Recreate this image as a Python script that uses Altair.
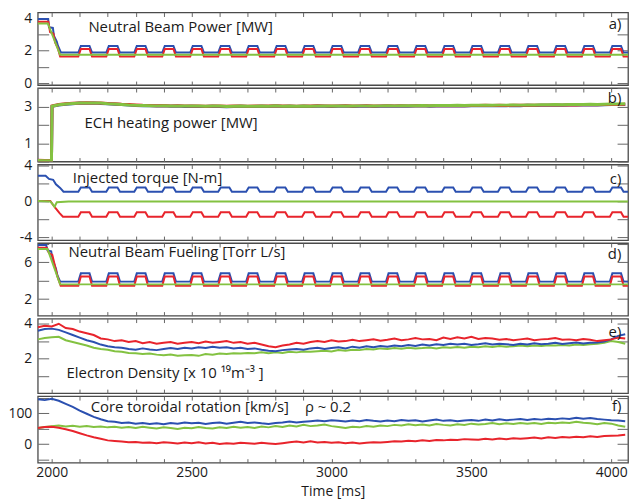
import altair as alt
import pandas as pd

# ---------------- colours / fonts ----------------
BLUE = "#2b50b0"
RED = "#e8242c"
GREEN = "#83c241"
FONT = "Open Sans"
TXT = "#1a1a1a"

X_DOMAIN = [1950, 4060]
X_END = 4060
W = 594

# ---------------- beam modulation (panels a, c, d) ----------------
PULSE_STARTS = [2095, 2195, 2295, 2395, 2495, 2595, 2695, 2795, 2895, 2995,
                3095, 3195, 3295, 3395, 3495, 3595, 3695, 3795, 3895, 3995]
PULSE_RISE = 9
PULSE_FLAT = 31

# a) Neutral beam power [MW]
nbp_blue_t = [1950, 1987, 1990, 2004, 2008, 2018, 2022, 2033]
nbp_blue_v = [3.95, 3.95, 3.45, 3.40, 2.90, 2.55, 2.30, 1.88]
nbp_blue_base, nbp_blue_top = 1.88, 2.29
nbp_red_t = [1950, 1988, 1994, 2006, 2012, 2022, 2030]
nbp_red_v = [3.78, 3.78, 3.15, 3.05, 2.50, 2.15, 1.64]
nbp_red_base, nbp_red_top = 1.64, 2.10
nbp_green_t = [1950, 1986, 2030]
nbp_green_v = [3.68, 3.68, 1.74]

# c) Injected torque [N-m]
tq_blue_t = [1950, 1978, 1990, 2005, 2015, 2030, 2042]
tq_blue_v = [2.85, 2.85, 2.50, 2.40, 1.90, 1.50, 1.08]
tq_blue_base, tq_blue_top = 1.08, 1.55
tq_red_t = [1950, 1995, 2005, 2015, 2028, 2040]
tq_red_v = [0.05, 0.05, -0.40, -0.80, -1.30, -1.70]
tq_red_base, tq_red_top = -1.70, -1.20
tq_green_t = [1950, 1995, 2003, 2010, 2018, 2060]
tq_green_v = [0.05, 0.00, -0.30, -0.60, -0.10, 0.00]

# d) Neutral beam fueling [Torr L/s]
nbf_blue_t = [1950, 1980, 1985, 1998, 2003, 2015, 2020, 2030]
nbf_blue_v = [7.88, 7.88, 7.30, 7.20, 6.30, 5.30, 4.60, 3.90]
nbf_blue_base, nbf_blue_top = 3.90, 4.80
nbf_red_t = [1950, 1982, 1990, 2002, 2010, 2020, 2032]
nbf_red_v = [7.60, 7.60, 7.00, 6.80, 5.80, 4.50, 3.45]
nbf_red_base, nbf_red_top = 3.45, 4.45
nbf_green_t = [1950, 1985, 2030]
nbf_green_v = [7.45, 7.45, 3.60]

# ---------------- b) ECH heating power [MW] ----------------
ech_t = [1950, 1975, 1999, 2001] + list(range(2025, 4051, 25))
ech_blue = [0.05, 0.06, 0.05, 3.00,
            3.08, 3.12, 3.15, 3.18, 3.17, 3.19, 3.16, 3.14, 3.12, 3.10,
            3.07, 3.05, 3.04, 3.03, 3.02, 3.03, 3.01, 3.02, 3.00, 3.01,
            3.00, 2.99, 3.01, 3.00, 2.98, 3.00, 3.01, 2.99, 3.00, 3.01,
            3.00, 3.02, 3.00, 3.01, 2.99, 3.01, 3.00, 3.02, 3.01, 3.00,
            3.01, 3.02, 3.00, 3.01, 3.02, 3.00, 3.01, 3.02, 3.01, 3.02,
            3.01, 3.02, 3.03, 3.01, 3.02, 3.03, 3.02, 3.04, 3.02, 3.03,
            3.03, 3.04, 3.03, 3.05, 3.04, 3.05, 3.04, 3.06, 3.05, 3.06,
            3.06, 3.07, 3.06, 3.08, 3.07, 3.08, 3.09, 3.08, 3.09, 3.10,
            3.10, 3.11]
ech_red = [0.07, 0.06, 0.07, 3.02,
           3.10, 3.14, 3.17, 3.19, 3.20, 3.18, 3.19, 3.16, 3.15, 3.12,
           3.10, 3.08, 3.06, 3.05, 3.04, 3.05, 3.03, 3.04, 3.03, 3.02,
           3.03, 3.01, 3.02, 3.03, 3.01, 3.02, 3.03, 3.01, 3.02, 3.03,
           3.02, 3.04, 3.02, 3.03, 3.01, 3.03, 3.02, 3.04, 3.03, 3.02,
           3.03, 3.04, 3.02, 3.03, 3.04, 3.02, 3.03, 3.04, 3.03, 3.04,
           3.03, 3.04, 3.05, 3.03, 3.04, 3.05, 3.04, 3.05, 3.04, 3.05,
           3.05, 3.06, 3.05, 3.06, 3.05, 3.06, 3.06, 3.07, 3.06, 3.07,
           3.07, 3.08, 3.07, 3.09, 3.08, 3.09, 3.10, 3.09, 3.10, 3.11,
           3.11, 3.12]
ech_green = [0.06, 0.05, 0.06, 3.01,
             3.09, 3.13, 3.16, 3.18, 3.19, 3.19, 3.18, 3.15, 3.13, 3.11,
             3.08, 3.06, 3.05, 3.04, 3.03, 3.04, 3.02, 3.03, 3.02, 3.02,
             3.02, 3.01, 3.02, 3.02, 3.00, 3.01, 3.02, 3.01, 3.01, 3.02,
             3.01, 3.03, 3.01, 3.02, 3.01, 3.02, 3.01, 3.03, 3.02, 3.02,
             3.02, 3.03, 3.02, 3.03, 3.03, 3.02, 3.03, 3.04, 3.03, 3.04,
             3.04, 3.04, 3.05, 3.04, 3.05, 3.05, 3.05, 3.06, 3.05, 3.06,
             3.06, 3.07, 3.06, 3.07, 3.07, 3.08, 3.07, 3.08, 3.08, 3.09,
             3.09, 3.10, 3.09, 3.11, 3.10, 3.11, 3.12, 3.11, 3.12, 3.13,
             3.13, 3.14]

# ---------------- e) electron density, f) core rotation ----------------
t25 = list(range(1950, 4051, 25))
ne_red = [3.80, 3.88, 3.85, 4.00, 3.75, 3.70, 3.55, 3.45, 3.35, 3.15,
          3.10, 3.00, 3.05, 2.95, 3.00, 2.88, 2.95, 2.85, 2.90, 2.95,
          2.85, 2.90, 2.95, 2.88, 2.98, 2.90, 2.95, 3.00, 2.90, 2.95,
          2.85, 2.90, 2.80, 2.70, 2.65, 2.75, 2.80, 2.90, 2.85, 2.95,
          3.00, 2.95, 3.05, 2.98, 3.00, 3.08, 3.00, 3.05, 3.10, 3.02,
          3.08, 3.15, 3.05, 3.10, 3.18, 3.10, 3.12, 3.05, 3.20, 3.12,
          3.22, 3.15, 3.25, 3.12, 3.18, 3.15, 3.08, 3.12, 3.05, 3.10,
          3.15, 3.05, 3.10, 3.12, 3.18, 3.08, 3.10, 3.05, 3.12, 3.08,
          3.00, 3.05, 3.10, 3.20, 3.15]
ne_blue = [3.60, 3.70, 3.72, 3.65, 3.50, 3.35, 3.20, 3.05, 2.95, 2.80,
           2.70, 2.65, 2.62, 2.55, 2.50, 2.58, 2.52, 2.48, 2.55, 2.60,
           2.55, 2.62, 2.58, 2.65, 2.60, 2.68, 2.62, 2.65, 2.58, 2.62,
           2.55, 2.58, 2.50, 2.45, 2.42, 2.48, 2.52, 2.55, 2.50, 2.58,
           2.62, 2.55, 2.60, 2.65, 2.58, 2.68, 2.62, 2.70, 2.65, 2.72,
           2.68, 2.75, 2.70, 2.78, 2.72, 2.80, 2.75, 2.82, 2.78, 2.85,
           2.80, 2.85, 2.78, 2.82, 2.88, 2.80, 2.85, 2.82, 2.78, 2.85,
           2.80, 2.88, 2.82, 2.85, 2.90, 2.84, 2.88, 2.92, 2.86, 2.90,
           2.92, 2.98, 3.10, 3.30, 3.40]
ne_green = [3.10, 3.18, 3.22, 3.25, 3.05, 2.95, 2.85, 2.75, 2.62, 2.55,
            2.50, 2.42, 2.38, 2.32, 2.30, 2.25, 2.28, 2.22, 2.18, 2.22,
            2.15, 2.18, 2.20, 2.15, 2.25, 2.22, 2.28, 2.25, 2.30, 2.28,
            2.32, 2.30, 2.35, 2.30, 2.35, 2.32, 2.38, 2.35, 2.40, 2.38,
            2.42, 2.45, 2.40, 2.48, 2.45, 2.50, 2.48, 2.55, 2.52, 2.58,
            2.55, 2.60, 2.56, 2.62, 2.58, 2.60, 2.63, 2.58, 2.65, 2.62,
            2.66, 2.62, 2.68, 2.64, 2.70, 2.66, 2.72, 2.68, 2.70, 2.74,
            2.70, 2.75, 2.72, 2.76, 2.74, 2.78, 2.75, 2.80, 2.78, 2.82,
            2.85, 2.90, 3.00, 2.95, 2.85]

rot_blue = [145, 142, 146, 140, 130, 120, 108, 98, 88, 80,
            74, 72, 68, 70, 66, 68, 65, 67, 64, 68,
            66, 70, 67, 69, 65, 68, 70, 66, 69, 72,
            68, 70, 67, 65, 68, 70, 73, 70, 72, 74,
            76, 74, 77, 75, 73, 76, 74, 78, 75, 73,
            76, 74, 78, 75, 77, 73, 76, 79, 75, 77,
            74, 76, 78, 75, 79, 76, 80, 77, 79, 81,
            78, 81, 79, 82, 80, 83, 81, 85, 82, 84,
            81, 79, 77, 76, 74]
rot_green = [52, 55, 58, 60, 57, 59, 56, 58, 55, 57,
             54, 56, 53, 55, 52, 56, 53, 50, 54, 52,
             49, 53, 51, 55, 52, 50, 54, 52, 56, 53,
             55, 52, 57, 54, 58, 55, 60, 57, 62, 58,
             60, 63, 58, 55, 52, 56, 54, 58, 56, 60,
             58, 62, 60, 64, 61, 63, 60, 65, 62, 60,
             64, 62, 66, 63, 65, 68, 64, 67, 65, 68,
             66, 68, 65, 69, 67, 70, 68, 72, 69, 67,
             64, 68, 66, 60, 56]
rot_red = [52, 55, 56, 53, 48, 42, 35, 28, 22, 17,
           12, 10, 8, 6, 7, 4, 5, 3, 6, 4,
           2, 5, 3, 6, 2, 4, 0, 3, 1, 4,
           3, 1, 4, 2, 0, 3, 6, 8, 5, 9,
           5, 7, 4, 6, 3, 5, 2, 4, 6, 5,
           7, 9, 8, 11, 9, 12, 10, 13, 12, 14,
           13, 16, 15, 14, 17, 15, 18, 16, 19, 17,
           19, 21, 18, 22, 20, 23, 21, 24, 22, 25,
           23, 26, 27, 28, 30]

# ---------------- annotations ----------------
panel_titles = ["Neutral Beam Power [MW]", "ECH heating power [MW]",
                "Injected torque [N-m]", "Neutral Beam Fueling [Torr L/s]",
                "Electron Density [x 10 \u00b9\u2079m\u207b\u00b3 ]",
                "Core toroidal rotation [km/s]"]
panel_title_t = [2131, 2117, 2075, 2060, 2053, 2139]
panel_title_v = [3.43, 2.10, 2.60, 7.13, 1.15, 121]
panel_letters = ["a)", "b)", "c)", "d)", "e)", "f)"]
panel_letter_v = [3.67, 3.46, 2.54, 6.90, 3.55, 122]
LETTER_T = 4036
rho_text, rho_t, rho_v = "\u03c1 ~ 0.2", 2905, 121


def pulse_series(ramp_t, ramp_v, base, top):
    t, v = list(ramp_t), list(ramp_v)
    for p in PULSE_STARTS:
        t += [p, p + PULSE_RISE, p + PULSE_RISE + PULSE_FLAT, p + 2 * PULSE_RISE + PULSE_FLAT]
        v += [base, top, top, base]
    t.append(X_END)
    v.append(base)
    return t, v


def flat_series(ramp_t, ramp_v):
    return list(ramp_t) + [X_END], list(ramp_v) + [ramp_v[-1]]


def xs():
    return alt.Scale(domain=X_DOMAIN, nice=False, zero=False)


def ys(dom):
    return alt.Scale(domain=dom, nice=False, zero=False)


def line(t, v, color, dom, width=2.0):
    df = pd.DataFrame({"t": t, "v": v})
    return alt.Chart(df).mark_line(color=color, strokeWidth=width, clip=True).encode(
        x=alt.X("t:Q", scale=xs(), axis=None),
        y=alt.Y("v:Q", scale=ys(dom), axis=None),
    )


def label(t, v, text, dom, align="left"):
    df = pd.DataFrame({"t": [t], "v": [v], "txt": [text]})
    return alt.Chart(df).mark_text(align=align, baseline="middle", font=FONT,
                                   fontSize=15, color=TXT).encode(
        x=alt.X("t:Q", scale=xs(), axis=None),
        y=alt.Y("v:Q", scale=ys(dom), axis=None),
        text="txt:N",
    )


def axes(dom, yvals, ylabels, last):
    # an invisible anchor in the middle of the panel that only carries the axes
    df = pd.DataFrame({"t": [(X_DOMAIN[0] + X_DOMAIN[1]) / 2], "v": [(dom[0] + dom[1]) / 2]})
    xvals = list(range(2000, 4001, 100))
    lab_list = ",".join(str(x) for x in ylabels)
    left_expr = "indexof([%s], datum.value) >= 0 ? toString(datum.value) : ''" % lab_list
    bottom_kwargs = dict(orient="bottom", values=xvals, offset=-4, tickSize=4,
                         domain=False, grid=False, tickColor="#666", labelOverlap=False,
                         labelFlush=False)
    if last:
        bottom_kwargs.update(labels=True, labelPadding=3,
                             labelExpr="datum.value % 500 == 0 ? toString(datum.value) : ''",
                             title="Time [ms]", titlePadding=5)
    else:
        bottom_kwargs.update(labels=False, title=None)
    lb = alt.Chart(df).mark_point(opacity=0, size=1).encode(
        x=alt.X("t:Q", scale=xs(), axis=alt.Axis(**bottom_kwargs)),
        y=alt.Y("v:Q", scale=ys(dom), axis=alt.Axis(
            orient="left", values=yvals, labelExpr=left_expr, offset=-11, tickSize=11,
            domain=False, grid=False, title=None, labelPadding=6, tickColor="#666",
            labelOverlap=False, labelFlush=False, minExtent=0)),
    )
    rt = alt.Chart(df).mark_point(opacity=0, size=1).encode(
        x=alt.X("t:Q", scale=xs(), axis=alt.Axis(
            orient="top", values=xvals, offset=-4, tickSize=4, domain=False,
            grid=False, labels=False, title=None, tickColor="#666")),
        y=alt.Y("v:Q", scale=ys(dom), axis=alt.Axis(
            orient="right", values=yvals, offset=-11, tickSize=11, domain=False,
            grid=False, labels=False, title=None, tickColor="#666", minExtent=0)),
    )
    return [lb, rt]


def panel(series, dom, yvals, ylabels, height, idx, extra=None, last=False):
    layers = [line(t, v, c, dom, w) for (t, v, c, w) in series]
    layers.append(label(panel_title_t[idx], panel_title_v[idx], panel_titles[idx], dom))
    layers.append(label(LETTER_T, panel_letter_v[idx], panel_letters[idx], dom, align="right"))
    if extra:
        layers += extra
    layers += axes(dom, yvals, ylabels, last)
    return alt.layer(*layers).resolve_axis(x="independent", y="independent").properties(
        width=W, height=height)


# a
dom_a = [-0.12, 4.35]
a = panel([
    (*pulse_series(nbp_blue_t, nbp_blue_v, nbp_blue_base, nbp_blue_top), BLUE, 2.0),
    (*pulse_series(nbp_red_t, nbp_red_v, nbp_red_base, nbp_red_top), RED, 2.0),
    (*flat_series(nbp_green_t, nbp_green_v), GREEN, 2.0),
], dom_a, [0, 1, 2, 3, 4], [0, 2, 4], 73, 0)

# b
dom_b = [0, 4]
b = panel([
    (ech_t, ech_blue, BLUE, 3.0),
    (ech_t, ech_red, RED, 3.0),
    (ech_t, ech_green, GREEN, 3.0),
], dom_b, [0, 1, 2, 3, 4], [1, 3], 74, 1)

# c
dom_c = [-4.3, 4.1]
c = panel([
    (*pulse_series(tq_blue_t, tq_blue_v, tq_blue_base, tq_blue_top), BLUE, 2.0),
    (*pulse_series(tq_red_t, tq_red_v, tq_red_base, tq_red_top), RED, 2.0),
    (*flat_series(tq_green_t, tq_green_v), GREEN, 2.0),
], dom_c, [-4, -2, 0, 2, 4], [-4, 0, 4], 76, 2)

# d
dom_d = [0.2, 8.1]
d = panel([
    (*pulse_series(nbf_blue_t, nbf_blue_v, nbf_blue_base, nbf_blue_top), BLUE, 2.0),
    (*pulse_series(nbf_red_t, nbf_red_v, nbf_red_base, nbf_red_top), RED, 2.0),
    (*flat_series(nbf_green_t, nbf_green_v), GREEN, 2.0),
], dom_d, [2, 4, 6, 8], [2, 6], 73, 3)

# e
dom_e = [0, 4.3]
e = panel([
    (t25, ne_green, GREEN, 2.0),
    (t25, ne_blue, BLUE, 2.0),
    (t25, ne_red, RED, 2.0),
], dom_e, [1, 2, 3, 4], [2, 4], 75, 4)

# f
dom_f = [-60, 155]
f = panel([
    (t25, rot_green, GREEN, 2.0),
    (t25, rot_blue, BLUE, 2.0),
    (t25, rot_red, RED, 2.0),
], dom_f, [-50, 0, 50, 100, 150], [0, 100], 67, 5,
    extra=[label(rho_t, rho_v, rho_text, dom_f)], last=True)

chart = alt.vconcat(a, b, c, d, e, f, spacing=3, bounds="flush").properties(
    padding={"left": 7, "top": 9, "right": 2, "bottom": 2},
    background="white",
).configure_view(
    stroke="#4a4a4a", strokeWidth=1.3
).configure_axis(
    labelFont=FONT, labelFontSize=14, labelColor=TXT,
    titleFont=FONT, titleFontSize=14, titleFontWeight="normal", titleColor=TXT,
    tickWidth=1,
)

chart.save("out.html", embed_options={"renderer": "svg", "actions": False})
